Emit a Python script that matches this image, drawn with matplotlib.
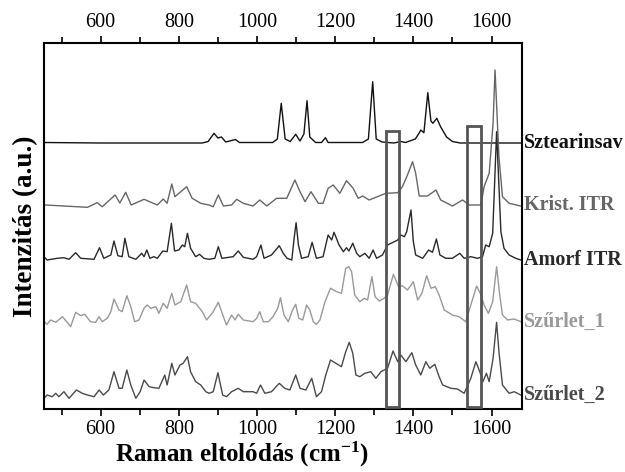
import matplotlib
matplotlib.use('Agg')
import matplotlib.pyplot as plt
from matplotlib.patches import Rectangle
from matplotlib.ticker import MultipleLocator

# Raman shift (cm-1) / stacked intensity (offset units)
szt_x = [455, 600, 860, 875, 890, 900, 909, 920, 945, 955, 1040, 1052, 1062, 1072,
         1085, 1099, 1110, 1120, 1128, 1135, 1150, 1165, 1175, 1182, 1270, 1285, 1296,
         1305, 1320, 1350, 1368, 1380, 1405, 1415, 1419, 1427, 1437, 1445, 1450, 1460,
         1470, 1485, 1500, 1520, 1678]
szt_y = [266.5, 266, 266, 267.5, 275.7, 271, 272, 267, 269.5, 266.5, 266.5, 270, 305.7, 270,
         267.5, 274.7, 268, 275, 308.3, 272, 266.5, 266.5, 271.3, 266.5, 266.5, 270, 327.3,
         270, 267, 266, 267.5, 266.5, 270, 276, 279, 276.3, 316.3, 288, 285.7, 290.7,
         282, 272, 267.5, 266, 266]

krist_x = [459, 506, 566, 591, 604, 637, 649, 664, 678, 711, 745, 760, 770, 782, 790,
           805, 820, 834, 856, 877, 888, 901, 914, 935, 948, 965, 990, 1007, 1025, 1050,
           1076, 1097, 1110, 1123, 1138, 1157, 1169, 1182, 1195, 1212, 1229, 1246, 1259,
           1270, 1287, 1308, 1330, 1360, 1372, 1385, 1398, 1406, 1415, 1436, 1458, 1470,
           1500, 1526, 1543, 1573, 1581, 1594, 1604, 1609, 1619, 1628, 1645, 1675]
krist_y = [204, 203, 201.7, 206.3, 202.3, 214, 206, 216.7, 204, 209.7, 204, 210, 205.7,
           225, 212.3, 217.3, 222.3, 210.7, 205.7, 204, 202.3, 214, 203, 204, 209.7,
           205.7, 203, 209, 203, 210.7, 210.7, 229, 217.3, 207.3, 217.3, 205.7, 205.7,
           220.7, 224, 215.7, 228.3, 220.7, 210.7, 213, 209, 212.3, 215.7, 216.3, 222.3,
           234, 247.3, 235.7, 213, 213, 219, 209, 203, 209, 204, 204, 222.3, 235.7, 285.7,
           339, 252.3, 212.3, 205.7, 203]

amorf_x = [455, 463, 489, 506, 519, 536, 549, 583, 597, 608, 626, 634, 644, 655, 662,
           672, 690, 705, 711, 718, 726, 736, 745, 759, 770, 781, 789, 800, 809, 815,
           822, 830, 843, 853, 864, 877, 892, 901, 910, 939, 952, 965, 990, 999, 1010,
           1018, 1037, 1057, 1067, 1077, 1089, 1095, 1100, 1106, 1114, 1131, 1141, 1152,
           1169, 1182, 1191, 1197, 1210, 1221, 1229, 1235, 1245, 1255, 1263, 1276, 1287,
           1297, 1306, 1321, 1334, 1360, 1368, 1377, 1383, 1394, 1400, 1406, 1424, 1439,
           1449, 1459, 1468, 1483, 1500, 1519, 1530, 1547, 1564, 1577, 1585, 1594, 1603,
           1613, 1624, 1632, 1645, 1662, 1675]
amorf_y = [152.3, 149, 150.7, 151.3, 149.7, 156.3, 150.7, 149.7, 161.3, 150.7, 154, 168,
           153.3, 152.3, 170.7, 152.3, 149.7, 155.7, 152.3, 159, 150.7, 152.3, 150.7, 158,
           157.3, 185.7, 158, 159, 164, 162.3, 175.7, 160.7, 152.3, 154.7, 150.7, 149.7,
           150.7, 162.3, 150.7, 152.3, 158, 151.7, 149.7, 152.3, 164, 150.7, 154, 163.3,
           155.7, 150.7, 149, 170.7, 186.3, 164, 150.7, 152.3, 166.7, 150.7, 152.3, 174,
           169, 176.7, 164, 157.3, 161.3, 158, 165.7, 155.7, 152.3, 155.7, 150.7, 159,
           150.7, 154, 164, 169, 174, 172.3, 177.3, 199, 167.3, 154, 150.7, 159, 156.7,
           170, 154, 150.7, 150.7, 155.7, 150.7, 152.3, 150.7, 152.3, 164, 162.3, 175.7,
           277.3, 177.3, 160.7, 154, 150.7, 149]

sz1_x = [455, 463, 472, 485, 502, 513, 523, 536, 549, 559, 574, 587, 596, 604, 617,
         626, 634, 647, 655, 667, 677, 687, 698, 711, 719, 728, 741, 749, 760, 770, 782,
         790, 805, 820, 830, 843, 860, 871, 888, 901, 914, 922, 935, 944, 952, 965, 990,
         999, 1007, 1016, 1029, 1041, 1053, 1060, 1069, 1080, 1091, 1099, 1107, 1117,
         1127, 1135, 1144, 1152, 1161, 1174, 1188, 1204, 1216, 1227, 1235, 1242, 1250,
         1263, 1274, 1283, 1294, 1302, 1313, 1325, 1334, 1349, 1362, 1372, 1385, 1400,
         1411, 1422, 1434, 1445, 1456, 1466, 1479, 1500, 1517, 1534, 1547, 1562, 1573,
         1581, 1592, 1603, 1613, 1621, 1628, 1641, 1658, 1675]
sz1_y = [87.3, 84.7, 89, 86.7, 92.3, 87.3, 82.3, 96.7, 93.3, 94.7, 87.3, 86.7, 92.3, 87.3,
         90.7, 97.3, 110, 99, 97.3, 113.3, 102.3, 87.3, 89, 100.7, 104, 100.7, 102.3, 95.7,
         105.7, 100.7, 115.7, 104, 107.3, 124, 107.3, 105.7, 97.3, 89, 97.3, 106.7, 92.3,
         84, 94, 89, 94.7, 89, 87.3, 90.7, 97.3, 87.3, 87.3, 92.3, 100.7, 111.3, 94, 87.3,
         99, 104.7, 90.7, 89, 104, 99, 87.3, 84.7, 89, 107.3, 120.7, 117.3, 115.7, 140.7,
         142.3, 137.3, 114, 107.3, 110.7, 109, 132.3, 112.3, 108, 110.7, 114, 134.7, 122.3,
         123.3, 119, 127.3, 109, 115.7, 133.3, 120.7, 122.3, 114, 99, 94, 92.3, 87.3, 104,
         123, 114, 104, 95.7, 107.3, 142.3, 114, 94, 89, 90, 87.3]

sz2_x = [455, 463, 476, 485, 493, 506, 519, 538, 553, 566, 583, 596, 607, 621, 634,
         647, 655, 667, 677, 690, 701, 711, 724, 736, 749, 764, 770, 782, 790, 803, 811,
         822, 830, 843, 856, 869, 877, 888, 900, 912, 922, 935, 952, 965, 990, 999, 1009,
         1020, 1037, 1057, 1071, 1084, 1099, 1110, 1125, 1140, 1152, 1165, 1176, 1188,
         1202, 1216, 1227, 1236, 1245, 1253, 1263, 1276, 1291, 1304, 1317, 1334, 1348,
         1360, 1368, 1381, 1396, 1406, 1419, 1432, 1442, 1455, 1466, 1475, 1496, 1513,
         1530, 1547, 1560, 1570, 1578, 1587, 1594, 1604, 1613, 1619, 1628, 1645, 1658,
         1675]
sz2_y = [10.7, 14, 12.3, 15.7, 12.3, 17.3, 10.7, 19, 15.7, 14, 12.3, 19, 14, 19, 37.3,
         20.7, 20.7, 39, 24, 10.7, 17.3, 29, 22.3, 21.3, 20.7, 34, 24, 45.7, 34, 44, 45.7,
         52.3, 37.3, 27.3, 24, 17.3, 15.7, 17.3, 36.3, 14, 12.3, 17.3, 20.7, 17.3, 17.3,
         15.7, 24, 15.7, 17.3, 25.7, 20.7, 19, 34, 20.7, 19, 30.7, 12.3, 17.3, 34, 49,
         45.7, 42.3, 57.3, 66.7, 55.7, 34, 32.3, 35.7, 37.3, 30.7, 37.3, 40.7, 58, 47.3,
         54, 47.3, 56.3, 44, 34, 47.3, 40.7, 44.7, 32.3, 24, 20.7, 20, 15.7, 30.7, 47.3,
         37.3, 27.3, 35.7, 27.3, 50.7, 86.7, 57.3, 24, 15.7, 17.3, 14]

names = ['Sztearinsav', 'Krist. ITR', 'Amorf ITR', 'Szűrlet_1', 'Szűrlet_2']
colors = ['#111111', '#666666', '#2a2a2a', '#999999', '#4a4a4a']
label_y = [266, 204, 149, 87, 14]

# marked regions (cm-1)
box_x = [1331, 1538]
box_w = [32, 36]
box_top = [278, 283]

plt.rcParams['font.family'] = ['Liberation Serif', 'DejaVu Serif']
plt.rcParams['mathtext.fontset'] = 'custom'
plt.rcParams['mathtext.rm'] = 'Liberation Serif'
plt.rcParams['mathtext.bf'] = 'Liberation Serif:bold'

fig = plt.figure(figsize=(6.25, 4.72), dpi=100)
ax = fig.add_axes([44 / 625, 1 - 409 / 472, (522 - 44) / 625, (409 - 43) / 472])

series = [(szt_x, szt_y), (krist_x, krist_y), (amorf_x, amorf_y), (sz1_x, sz1_y), (sz2_x, sz2_y)]
for (xs, ys), c in zip(series, colors):
    ax.plot(xs, ys, color=c, lw=1.0)

for bx, bw, bt in zip(box_x, box_w, box_top):
    ax.add_patch(Rectangle((bx, 2), bw, bt - 2, fill=False, edgecolor='#555555', lw=2, zorder=5))

for name, c, yy in zip(names, colors, label_y):
    ax.annotate(name, xy=(1.004, yy), xycoords=('axes fraction', 'data'), color=c,
                fontsize=14.5, fontweight='bold', va='center', ha='left', annotation_clip=False)

ax.set_xlim(455, 1678)
ax.set_ylim(0, 366)
ax.xaxis.set_major_locator(MultipleLocator(200))
ax.xaxis.set_minor_locator(MultipleLocator(100))
ax.set_yticks([])
ax.tick_params(axis='x', which='both', top=True, labeltop=True, direction='out', labelsize=14.5, width=1.2)
ax.tick_params(axis='x', which='major', length=5, pad=3)
ax.tick_params(axis='x', which='minor', length=4)
for s in ax.spines.values():
    s.set_linewidth(1.5)

ax.set_xlabel(r'Raman eltolódás (cm$\mathbf{^{-1}}$)', fontsize=18, fontweight='bold')
ax.xaxis.set_label_coords(0.414, -0.083)
ax.set_ylabel('Intenzitás (a.u.)', fontsize=19.5, fontweight='bold', labelpad=4)

fig.savefig('out.png', dpi=100)
